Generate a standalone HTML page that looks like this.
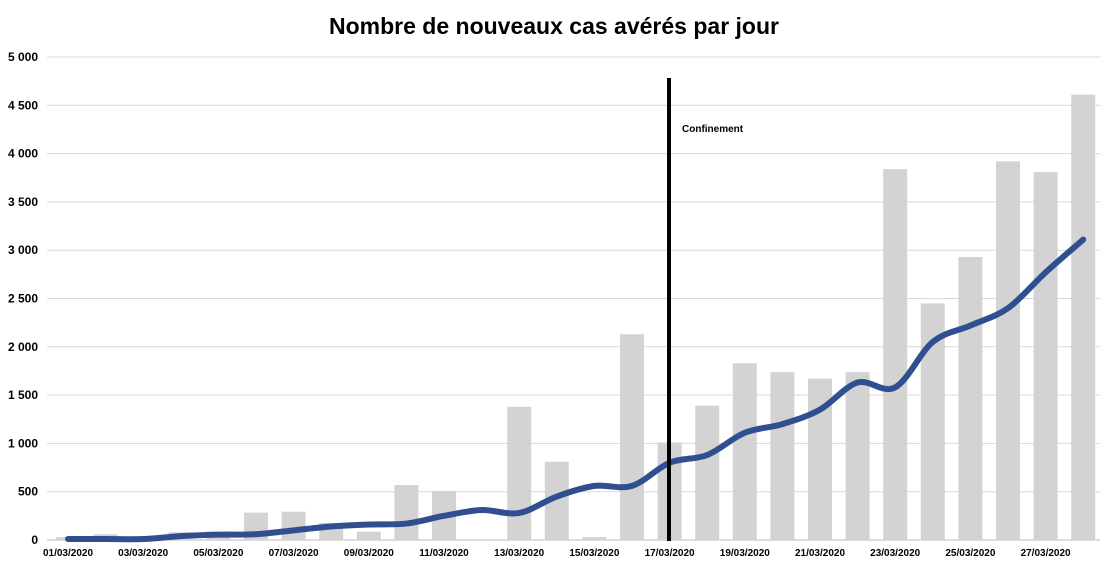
<!DOCTYPE html>
<html><head><meta charset="utf-8"><style>
body{margin:0;background:#fff;width:1101px;height:563px;overflow:hidden}
svg text{font-family:"Liberation Sans",sans-serif}
</style></head><body>
<svg id="c" width="1101" height="563">
<text x="554" y="34" text-anchor="middle" font-size="23" font-weight="bold">Nombre de nouveaux cas avérés par jour</text>
<g id="grid"></g><g id="bars"></g><g id="line"></g><g id="xl"></g>
<line x1="669" y1="78" x2="669" y2="541" stroke="#000" stroke-width="4"/>
<text x="682" y="132" font-size="10" font-weight="bold">Confinement</text>
</svg>
<script>
const categories=["01/03/2020","02/03/2020","03/03/2020","04/03/2020","05/03/2020","06/03/2020","07/03/2020","08/03/2020","09/03/2020","10/03/2020","11/03/2020","12/03/2020","13/03/2020","14/03/2020","15/03/2020","16/03/2020","17/03/2020","18/03/2020","19/03/2020","20/03/2020","21/03/2020","22/03/2020","23/03/2020","24/03/2020","25/03/2020","26/03/2020","27/03/2020","28/03/2020"];
const dailyCases=[30,60,5,80,90,283,293,176,86,569,507,0,1380,810,30,2130,1010,1390,1830,1740,1670,1740,3840,2450,2930,3920,3810,4610];
const movingAvg=[10,10,10,40,55,60,100,140,160,170,250,310,280,450,560,560,800,880,1110,1200,1350,1630,1580,2050,2220,2400,2770,3110];
const yTicks=[0,500,1000,1500,2000,2500,3000,3500,4000,4500,5000];
const yTickLabels=["0","500","1 000","1 500","2 000","2 500","3 000","3 500","4 000","4 500","5 000"];
const NS="http://www.w3.org/2000/svg";
const y=v=>540-v*483/5000;
const x=i=>68+i*37.6;
function mk(t,a,p){const e=document.createElementNS(NS,t);for(const k in a)e.setAttribute(k,a[k]);p.appendChild(e);return e;}
const grid=document.getElementById('grid');
yTicks.forEach((v,i)=>{
 const l=mk('line',{x1:47,x2:1100,y1:y(v),y2:y(v),stroke:i==0?'#bbb':'#d9d9d9','stroke-width':1},grid);
 
 
 const t=mk('text',{x:38,y:y(v)+4,'text-anchor':'end','font-size':12,'font-weight':'bold'},grid);
 t.textContent=yTickLabels[i];
 
 
});
const bars=document.getElementById('bars');
dailyCases.forEach((v,i)=>{
 const r=mk('rect',{x:x(i)-12,y:y(v),width:24,height:540-y(v),fill:'#d3d3d3'},bars);
 
 
});
const pts=movingAvg.map((v,i)=>[x(i),y(v)]);
let d='M'+pts[0][0]+','+pts[0][1];
for(let i=0;i<pts.length-1;i++){
 const p0=pts[Math.max(i-1,0)],p1=pts[i],p2=pts[i+1],p3=pts[Math.min(i+2,pts.length-1)];
 const c1=[p1[0]+(p2[0]-p0[0])/6,p1[1]+(p2[1]-p0[1])/6],c2=[p2[0]-(p3[0]-p1[0])/6,p2[1]-(p3[1]-p1[1])/6];
 d+=' C'+c1+' '+c2+' '+p2;
}
const pl=mk('path',{d:d,fill:'none',stroke:'#2f4f91','stroke-width':6,'stroke-linecap':'round'},document.getElementById('line'));


const xl=document.getElementById('xl');
categories.forEach((c,i)=>{
 if(i%2)return;
 const t=mk('text',{x:x(i),y:556,'text-anchor':'middle','font-size':10,'font-weight':'bold'},xl);
 t.textContent=c;
 
 
});
</script>
</body></html>
